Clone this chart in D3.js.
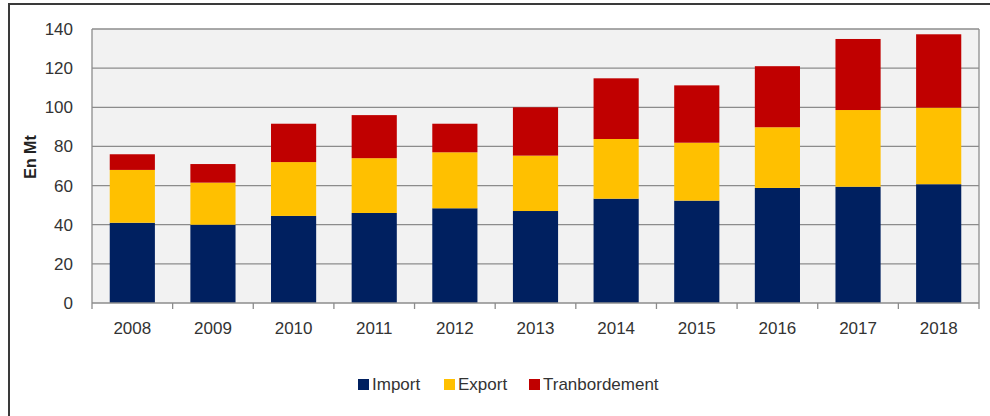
<!DOCTYPE html>
<html>
<head>
<meta charset="utf-8">
<script src="https://cdn.jsdelivr.net/npm/d3@7"></script>
<style>
  html, body { margin: 0; padding: 0; background: #fff; }
  svg { display: block; font-family: "Liberation Sans", Arial, sans-serif; }
</style>
</head>
<body>
<svg id="chart" width="990" height="416"></svg>
<script>
// Port traffic by year, in millions of tonnes
const years = ["2008", "2009", "2010", "2011", "2012", "2013", "2014", "2015", "2016", "2017", "2018"];
const importVals = [41.0, 40.0, 44.5, 46.0, 48.4, 47.0, 53.3, 52.3, 58.8, 59.4, 60.7];
const exportVals = [27.0, 21.5, 27.5, 28.0, 28.6, 28.3, 30.5, 29.6, 31.0, 39.2, 39.1];
const tranVals   = [ 8.0,  9.5, 19.6, 22.0, 14.6, 24.7, 31.0, 29.3, 31.2, 36.3, 37.5];
const seriesNames = ["Import", "Export", "Tranbordement"];
const seriesColors = ["#002060", "#ffc000", "#c00000"];
const yTicks = [0, 20, 40, 60, 80, 100, 120, 140];

const svg = d3.select("#chart");

// Outer frame
svg.append("rect")
  .attr("x", 9).attr("y", 4)
  .attr("width", 1000).attr("height", 430)
  .attr("fill", "none").attr("stroke", "#3a3a3a").attr("stroke-width", 2);

const plot = { left: 92, right: 979, top: 29, bottom: 303 };

const x = d3.scaleBand()
  .domain(years)
  .range([plot.left, plot.right])
  .paddingInner(0.44)
  .paddingOuter(0.22);

const y = d3.scaleLinear()
  .domain([0, 140])
  .range([plot.bottom, plot.top]);

// Plot background
svg.append("rect")
  .attr("x", plot.left).attr("y", plot.top)
  .attr("width", plot.right - plot.left).attr("height", plot.bottom - plot.top)
  .attr("fill", "#f2f2f2");

// Horizontal gridlines
svg.append("g")
  .selectAll("line")
  .data(yTicks.filter(d => d > 0))
  .join("line")
  .attr("x1", plot.left).attr("x2", plot.right)
  .attr("y1", d => y(d)).attr("y2", d => y(d))
  .attr("stroke", "#8c8c8c").attr("stroke-width", 1.3);

// Plot border (left and right)
svg.append("line")
  .attr("x1", plot.left).attr("x2", plot.left)
  .attr("y1", plot.top).attr("y2", plot.bottom)
  .attr("stroke", "#8c8c8c").attr("stroke-width", 1.3);
svg.append("line")
  .attr("x1", plot.right).attr("x2", plot.right)
  .attr("y1", plot.top).attr("y2", plot.bottom)
  .attr("stroke", "#8c8c8c").attr("stroke-width", 1.3);

// Stacked bars
const rows = years.map((yr, i) => ({
  year: yr,
  Import: importVals[i],
  Export: exportVals[i],
  Tranbordement: tranVals[i]
}));
const stacked = d3.stack().keys(seriesNames)(rows);

svg.append("g")
  .selectAll("g")
  .data(stacked)
  .join("g")
  .attr("fill", (d, i) => seriesColors[i])
  .selectAll("rect")
  .data(d => d)
  .join("rect")
  .attr("x", d => x(d.data.year))
  .attr("width", x.bandwidth())
  .attr("y", d => y(d[1]))
  .attr("height", d => y(d[0]) - y(d[1]));

// Y axis labels
const yAxis = d3.axisLeft(y).tickValues(yTicks).tickSize(0).tickPadding(19);
const gy = svg.append("g")
  .attr("transform", `translate(${plot.left},0)`)
  .call(yAxis);
gy.select(".domain").remove();
gy.selectAll("text")
  .attr("font-size", 17)
  .attr("font-family", "Liberation Sans, Arial, sans-serif")
  .attr("fill", "#333");

// X axis with ticks between categories
const xAxis = d3.axisBottom(x).tickSize(0).tickPadding(19);
const gx = svg.append("g")
  .attr("transform", `translate(0,${plot.bottom})`)
  .call(xAxis);
gx.select(".domain").remove();
gx.selectAll("text")
  .attr("font-size", 17)
  .attr("font-family", "Liberation Sans, Arial, sans-serif")
  .attr("fill", "#333");

svg.append("line")
  .attr("x1", plot.left).attr("x2", plot.right)
  .attr("y1", plot.bottom).attr("y2", plot.bottom)
  .attr("stroke", "#8c8c8c").attr("stroke-width", 1.3);

const step = x.step();
const boundaries = d3.range(years.length + 1).map(i => plot.left + i * step);
svg.append("g")
  .selectAll("line")
  .data(boundaries)
  .join("line")
  .attr("x1", d => d).attr("x2", d => d)
  .attr("y1", plot.bottom).attr("y2", plot.bottom + 6)
  .attr("stroke", "#8c8c8c").attr("stroke-width", 1.3);

// Y axis title
svg.append("text")
  .attr("transform", "translate(36,157) rotate(-90)")
  .attr("text-anchor", "middle")
  .attr("font-size", 16)
  .attr("font-weight", "bold")
  .attr("fill", "#222")
  .text("En Mt");

// Legend
const legendX = [358, 444, 529];
const legend = svg.append("g")
  .selectAll("g")
  .data(seriesNames)
  .join("g")
  .attr("transform", (d, i) => `translate(${legendX[i]},379)`);
legend.append("rect")
  .attr("width", 11).attr("height", 11)
  .attr("fill", (d, i) => seriesColors[i]);
legend.append("text")
  .attr("x", 14).attr("y", 11)
  .attr("font-size", 17)
  .attr("fill", "#333")
  .text(d => d);
</script>
</body>
</html>
